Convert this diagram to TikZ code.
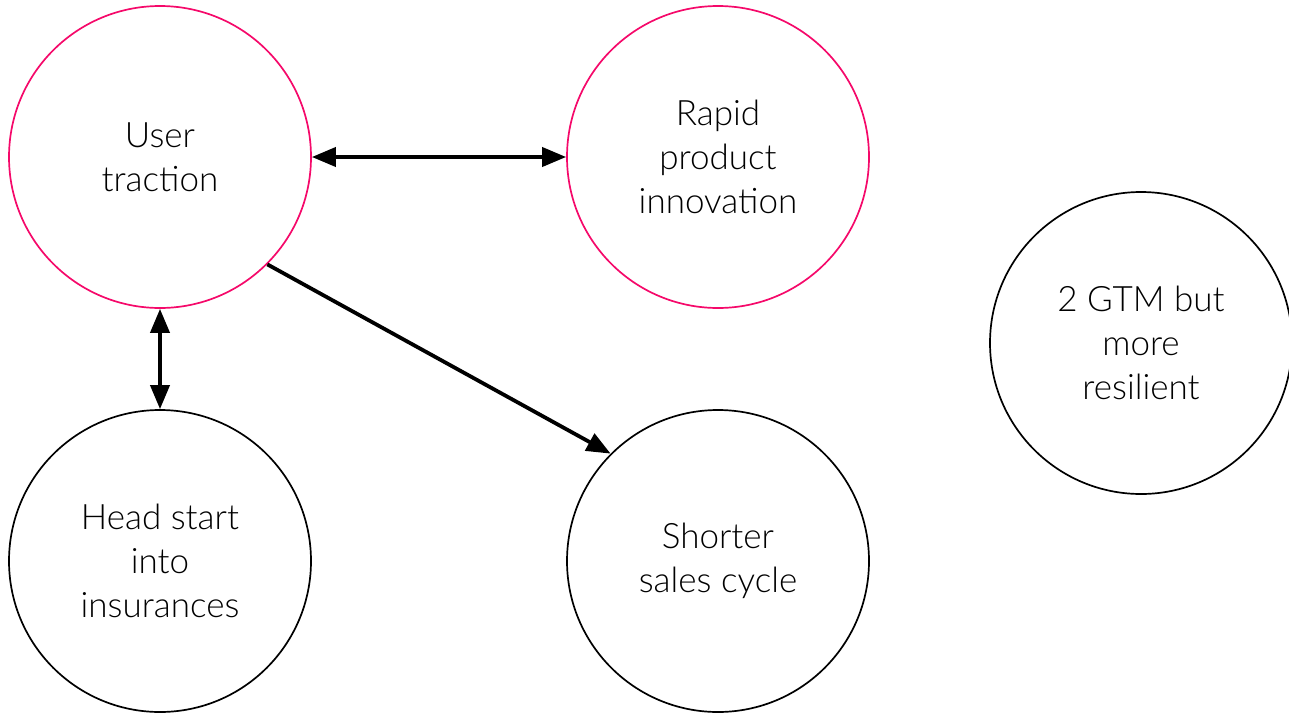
\documentclass[tikz,border=0pt]{standalone}
\usepackage{fontspec}
\setmainfont{Lato Light}
\usetikzlibrary{arrows.meta}
\definecolor{accent}{HTML}{F5096A}
\begin{document}
\begin{tikzpicture}[x=1pt,y=-1pt,
  bubble/.style={circle,draw=black,line width=1.7pt,minimum size=302pt,inner sep=0pt,
    align=center,font=\fontsize{35}{44}\selectfont},
  hot/.style={bubble,draw=accent},
  link/.style={line width=3.8pt,-{Triangle[length=24pt,width=19pt]}},
  dlink/.style={link,{Triangle[length=24pt,width=19pt]}-{Triangle[length=24pt,width=19pt]}}]
\useasboundingbox (0,0) rectangle (1289,715);
% idea bubbles
\node[hot]    (user)  at (160,157)  {User\\traction};
\node[hot]    (rapid) at (718,157)  {Rapid\\product\\innovation};
\node[bubble] (gtm)   at (1141,343) {2 GTM but\\more\\resilient};
\node[bubble] (head)  at (160,561)  {Head start\\into\\insurances};
\node[bubble] (sales) at (718,561)  {Shorter\\sales cycle};
% relations
\draw[dlink] (user) -- (rapid);
\draw[dlink] (user) -- (head);
\draw[link] (user.-45) -- (sales.135);
\end{tikzpicture}
\end{document}
